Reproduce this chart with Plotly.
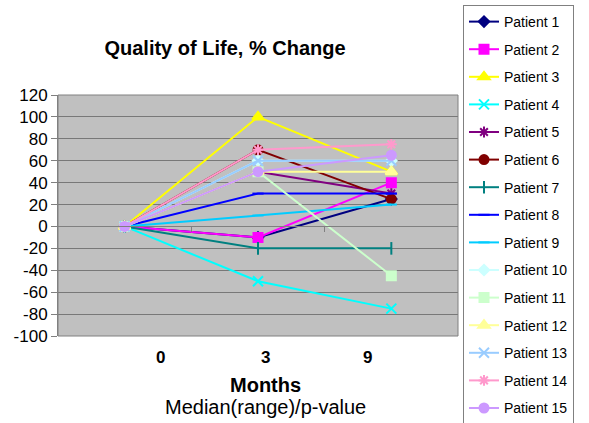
import plotly.graph_objects as go

months = ["0", "3", "9"]
patients = [f"Patient {i}" for i in range(1, 16)]
p1 = [0, -10, 25]
p2 = [0, -10, 40]
p3 = [0, 100, 50]
p4 = [0, -50, -75]
p5 = [0, 50, 30]
p6 = [0, 70, 25]
p7 = [0, -20, -20]
p8 = [0, 30, 30]
p9 = [0, 10, 20]
p10 = [0, 60, 60]
p11 = [0, 50, -45]
p12 = [0, 50, 50]
p13 = [0, 60, 60]
p14 = [0, 70, 75]
p15 = [0, 50, 65]
series = [p1, p2, p3, p4, p5, p6, p7, p8, p9, p10, p11, p12, p13, p14, p15]
y_ticks = [-100, -80, -60, -40, -20, 0, 20, 40, 60, 80, 100, 120]
y_tick_text = ["-100", "-80", "-60", "-40", "-20", "0", "20", "40", "60", "80", "100", "120"]

colors = ["#000080", "#FF00FF", "#FFFF00", "#00FFFF", "#800080", "#800000",
          "#008080", "#0000FF", "#00CCFF", "#CCFFFF", "#CCFFCC", "#FFFF99",
          "#99CCFF", "#FF99CC", "#CC99FF"]
symbols = ["diamond", "square", "triangle-up", "x-thin-open", "asterisk-open",
           "circle", "line-ns-open", "line-ew-open", "line-ew-open", "diamond",
           "square", "triangle-up", "x-thin-open", "asterisk-open", "circle"]
sizes = [8, 9, 10, 10, 9, 9, 9, 8, 8, 8, 9, 10, 10, 9, 9]

W, H = 589, 423
ML, MR, MT, MB = 58, 131, 0, 0
GH = H - MT - MB
PLOT_L, PLOT_R, PLOT_T, PLOT_B = 58, 458, 95, 336


def py(p):
    return 1 - (p - MT) / GH


def px(p):
    return (p - ML) / (W - ML - MR)


y_dom = [py(PLOT_B), py(PLOT_T)]
zero_pos = y_dom[0] + (100 / 220) * (y_dom[1] - y_dom[0])

xidx = list(range(len(months)))

fig = go.Figure()
for name, vals, c, s, sz in zip(patients, series, colors, symbols, sizes):
    fig.add_trace(go.Scatter(
        x=xidx, y=vals, name=name, mode="lines+markers", legendgroup=name,
        line=dict(color=c, width=2),
        marker=dict(symbol=s, size=sz, color=c, line=dict(color=c, width=2)),
    ))

fig.update_layout(
    width=W, height=H,
    margin=dict(l=ML, r=MR, t=MT, b=MB, autoexpand=False),
    paper_bgcolor="white", plot_bgcolor="#C0C0C0",
    font=dict(family="Liberation Sans, Arial, sans-serif", color="black"),
    title=dict(text="<b>Quality of Life, % Change</b>", x=225 / W, xanchor="center",
               xref="container", y=1 - 48 / H, yanchor="middle", font=dict(size=20)),
    showlegend=True,
    legend=dict(x=px(463), xanchor="left", y=py(5), yanchor="top",
                bgcolor="white", bordercolor="#808080", borderwidth=1,
                font=dict(size=14), tracegroupgap=6.4),
    xaxis=dict(range=[-0.5, 2.5], showgrid=False, zeroline=False,
               anchor="free", position=zero_pos, showline=True,
               linecolor="#808080", linewidth=1,
               tickmode="array", tickvals=[0.5, 1.5], ticks="outside",
               ticklen=5, tickcolor="#808080", showticklabels=False),
    yaxis=dict(domain=y_dom, range=[-100, 120], tickmode="array", tickvals=y_ticks,
               ticktext=y_tick_text, showgrid=True, gridcolor="#787878",
               gridwidth=1, zeroline=False, showline=True, linecolor="#808080",
               ticks="outside", ticklen=6, tickcolor="#808080",
               tickfont=dict(size=17)),
)

fig.add_shape(type="rect", xref="x domain", yref="y domain", x0=0, y0=0, x1=1, y1=1,
              line=dict(color="#808080", width=1), layer="above")

label_pos = [160, 265, 367]
for lab, lp in zip(months, label_pos):
    fig.add_annotation(text=f"<b>{lab}</b>", x=px(lp), y=py(357), xref="paper", yref="paper",
                       showarrow=False, font=dict(size=17), xanchor="center", yanchor="middle")

fig.add_annotation(text="<b>Months</b>", x=px(265), y=py(385), xref="paper",
                   yref="paper", showarrow=False, font=dict(size=20),
                   xanchor="center", yanchor="middle")
fig.add_annotation(text="Median(range)/p-value", x=px(265), y=py(407),
                   xref="paper", yref="paper", showarrow=False, font=dict(size=20),
                   xanchor="center", yanchor="middle")

fig.write_html("out.html", config={"displayModeBar": False},
               post_script="document.body.style.margin='0';")
